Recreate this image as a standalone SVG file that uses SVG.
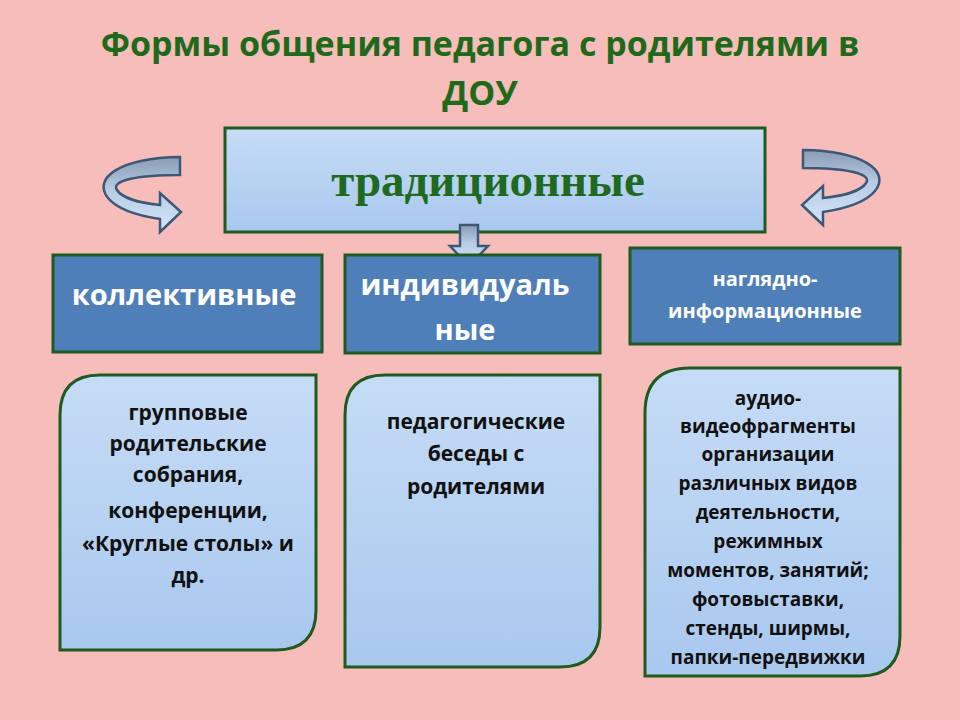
<svg xmlns="http://www.w3.org/2000/svg" width="960" height="720" viewBox="0 0 960 720">
<defs>
<linearGradient id="lb" x1="0" y1="0" x2="0" y2="1"><stop offset="0" stop-color="#c6dcf6"/><stop offset="1" stop-color="#a9c8ee"/></linearGradient>
<linearGradient id="ab" x1="0" y1="0" x2="0" y2="1"><stop offset="0" stop-color="#8a9cb4"/><stop offset="0.45" stop-color="#b8cce6"/><stop offset="1" stop-color="#d6e6f8"/></linearGradient>
<style>
.t{font-family:"Open Sans","DejaVu Sans",sans-serif;font-weight:bold;text-anchor:middle}
.dk{fill:#4f7fb8;stroke:#1f5a1f;stroke-width:3}
.lt{fill:url(#lb);stroke:#1f5a1f;stroke-width:3}
.w{fill:#ffffff}
.b{fill:#111}
.arr{fill:url(#ab);stroke:#3d5876;stroke-width:2.5}
</style>
</defs>
<rect width="960" height="720" fill="#f7bdbb"/>
<text class="t" x="480" y="56" font-size="34" fill="#1f6a1a">Формы общения педагога с родителями в</text>
<text class="t" x="480" y="105" font-size="34" fill="#1f6a1a">ДОУ</text>
<g id="top"><rect class="lt" x="225" y="128" width="540" height="104"/>
<text x="488" y="196" text-anchor="middle" font-family="Liberation Serif,serif" font-weight="bold" font-size="47" fill="#1e6a1e">традиционные</text></g>
<g id="connectors">
<path class="arr" d="M180,157 C120,158 92,178 108,198 C118,210 140,216 160,219 L160,232 L181,212 L160,193 L160,205 C140,203 122,198 117,190 C110,180 140,175 180,175 Z"/>
<path class="arr" transform="translate(983,-7) scale(-1,1)" d="M180,157 C120,158 92,178 108,198 C118,210 140,216 160,219 L160,232 L181,212 L160,193 L160,205 C140,203 122,198 117,190 C110,180 140,175 180,175 Z"/>
<path class="arr" d="M460,225 L478,225 L478,246 L488,246 L469,266 L450,246 L460,246 Z"/>
</g>
<g id="kol"><rect class="dk" x="53" y="255" width="269" height="97"/><text class="t w" x="184" y="305" font-size="29">коллективные</text></g>
<g id="ind"><rect class="dk" x="345" y="255" width="255" height="98"/><text class="t w" x="465" y="295" font-size="29">индивидуаль</text><text class="t w" x="465" y="340" font-size="29">ные</text></g>
<g id="nag"><rect class="dk" x="630" y="248" width="270" height="96"/><text class="t w" x="765" y="286" font-size="20">наглядно-</text><text class="t w" x="765" y="318" font-size="20">информационные</text></g>
<g id="b1"><path class="lt" d="M100,375 H316 V610 Q316,650 276,650 H60 V415 Q60,375 100,375 Z"/>
<text class="t b" font-size="21"><tspan x="188" y="420">групповые</tspan><tspan x="188" y="451">родительские</tspan><tspan x="188" y="482">собрания,</tspan><tspan x="188" y="518">конференции,</tspan><tspan x="188" y="551">«Круглые столы» и</tspan><tspan x="188" y="583">др.</tspan></text></g>
<g id="b2"><path class="lt" d="M385,375 H600 V627 Q600,667 560,667 H345 V415 Q345,375 385,375 Z"/>
<text class="t b" font-size="21"><tspan x="476" y="429">педагогические</tspan><tspan x="476" y="461">беседы с</tspan><tspan x="476" y="494">родителями</tspan></text></g>
<g id="b3"><path class="lt" d="M690,368 H900 V636 Q900,676 860,676 H645 V413 Q645,368 690,368 Z"/>
<text class="t b" font-size="19"><tspan x="768" y="405">аудио-</tspan><tspan x="768" y="433">видеофрагменты</tspan><tspan x="768" y="461">организации</tspan><tspan x="768" y="490">различных видов</tspan><tspan x="768" y="519">деятельности,</tspan><tspan x="768" y="548">режимных</tspan><tspan x="768" y="577">моментов, занятий;</tspan><tspan x="768" y="606">фотовыставки,</tspan><tspan x="768" y="635">стенды, ширмы,</tspan><tspan x="768" y="664">папки-передвижки</tspan></text></g>
</svg>
